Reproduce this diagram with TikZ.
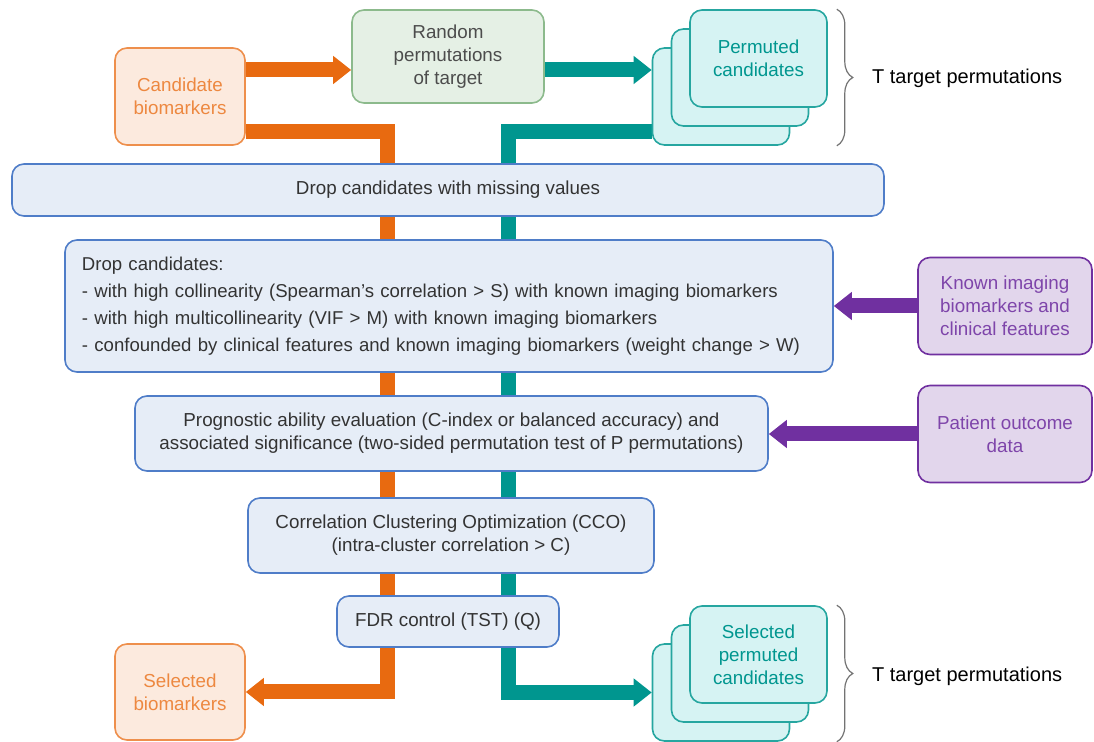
\documentclass[tikz,border=0pt]{standalone}
\usepackage{fontspec}
\setmainfont{Liberation Sans}
\usetikzlibrary{arrows.meta,calc,backgrounds,decorations.pathreplacing}
\definecolor{bmorange}{RGB}{232,106,16}
\definecolor{bmteal}{RGB}{0,150,143}
\definecolor{bmcyan}{RGB}{214,243,243}
\definecolor{bmpurple}{RGB}{112,48,160}
\definecolor{bmblue}{RGB}{79,125,200}

\begin{document}
\begin{tikzpicture}[x=0.5pt,y=-0.5pt,>={Triangle[length=9pt,width=13.5pt]},
    font=\fontsize{9.4}{11.5}\selectfont,
    every node/.style={align=center},
    box/.style={draw,rounded corners=6pt,line width=0.8pt,inner sep=0pt},
    orangebox/.style={box,draw=bmorange!75,fill=bmorange!14,text=bmorange!80,minimum width=65pt,minimum height=48.5pt},
    greenbox/.style={box,draw=green!40!black!45,fill=green!40!black!10,text=black!70},
    tealbox/.style={box,draw=bmteal!85,fill=bmcyan,text=bmteal,minimum width=68.5pt,minimum height=48.5pt},
    bluebox/.style={box,draw=bmblue,fill=bmblue!14,text=black!80},
    purplebox/.style={box,draw=bmpurple,fill=bmpurple!20,text=bmpurple!90,minimum width=87pt,minimum height=48.5pt},
    flow/.style={line width=7.5pt},
    oflow/.style={flow,draw=bmorange},
    tflow/.style={flow,draw=bmteal},
    pflow/.style={flow,draw=bmpurple},
    tbrace/.style={draw=black!55,line width=0.6pt,decorate,decoration={brace,amplitude=8pt}}]
  \useasboundingbox (0,0) rectangle (1094,742);

  % inputs
  \node[orangebox] (cand) at (180,96.5) {Candidate\\biomarkers};
  \node[greenbox,minimum width=96pt,minimum height=46.5pt] (rand) at (448,56.5) {Random\\permutations\\of target};
  \node[tealbox] (permC) at (721,96.5) {};
  \node[tealbox] (permB) at (740,77.5) {};
  \node[tealbox] (permA) at (758.5,58.5) {Permuted\\candidates};
  \draw[tbrace] ($(permA.north east)+(9,0)$) -- ($(permC.south -| permA.east)+(9,0)$);
  \node[anchor=west,font=\fontsize{10}{12}\selectfont] (tlabA) at (865,78) {T target permutations};

  % filtering steps
  \node[bluebox,minimum width=436pt,minimum height=26pt] (drop1) at (448,190) {Drop candidates with missing values};
  \node[bluebox,text width=367pt,inner xsep=8.5pt,minimum height=66pt,align=left,font=\fontsize{9.3}{13.5}\selectfont] (drop2) at (449,306)
    {Drop candidates:\\
     - with high collinearity (Spearman's correlation > S) with known imaging biomarkers\\
     - with high multicollinearity (VIF > M) with known imaging biomarkers\\
     - confounded by clinical features and known imaging biomarkers (weight change > W)};
  \node[purplebox] (known) at (1005,306) {Known imaging\\biomarkers and\\clinical features};
  \node[bluebox,minimum width=316.5pt,minimum height=37.5pt] (prog) at (451.5,433.5)
    {Prognostic ability evaluation (C-index or balanced accuracy) and\\associated significance (two-sided permutation test of P permutations)};
  \node[purplebox] (patient) at (1005,434) {Patient outcome\\data};
  \node[bluebox,minimum width=203pt,minimum height=37.5pt] (cco) at (451,535.5)
    {Correlation Clustering Optimization (CCO)\\(intra-cluster correlation > C)};
  \node[bluebox,minimum width=111pt,minimum height=25.5pt] (fdr) at (448,621.5) {FDR control (TST) (Q)};

  % outputs
  \node[orangebox,minimum height=48pt] (sel) at (180,692) {Selected\\biomarkers};
  \node[tealbox] (spermC) at (721,692.5) {};
  \node[tealbox] (spermB) at (740,673.5) {};
  \node[tealbox] (spermA) at (758.5,654.5) {Selected\\permuted\\candidates};
  \draw[tbrace] ($(spermA.north east)+(9,0)$) -- ($(spermC.south -| spermA.east)+(9,0)$);
  \node[anchor=west,font=\fontsize{10}{12}\selectfont] (tlabB) at (865,676) {T target permutations};

  \coordinate (ocol) at (387,0);
  \coordinate (tcol) at (508,0);
  \begin{scope}[on background layer]
    \draw[oflow,->] ($(cand.east)+(0,-26.5)$) -- ($(rand.west)+(0,13.5)$);
    \draw[tflow,->] ($(rand.east)+(0,13.5)$) -- ($(permC.west)+(0,-26.5)$);
    \draw[oflow,->] ($(cand.east)+(0,35.5)$) -| (ocol |- sel.east) -- (sel.east);
    \draw[tflow,->] ($(permC.west)+(0,35.5)$) -| (tcol |- spermC.west) -- (spermC.west);
    \draw[pflow,->] (known.west) -- (known.west -| drop2.east);
    \draw[pflow,->] (patient.west) -- (patient.west -| prog.east);
  \end{scope}
\end{tikzpicture}
\end{document}
